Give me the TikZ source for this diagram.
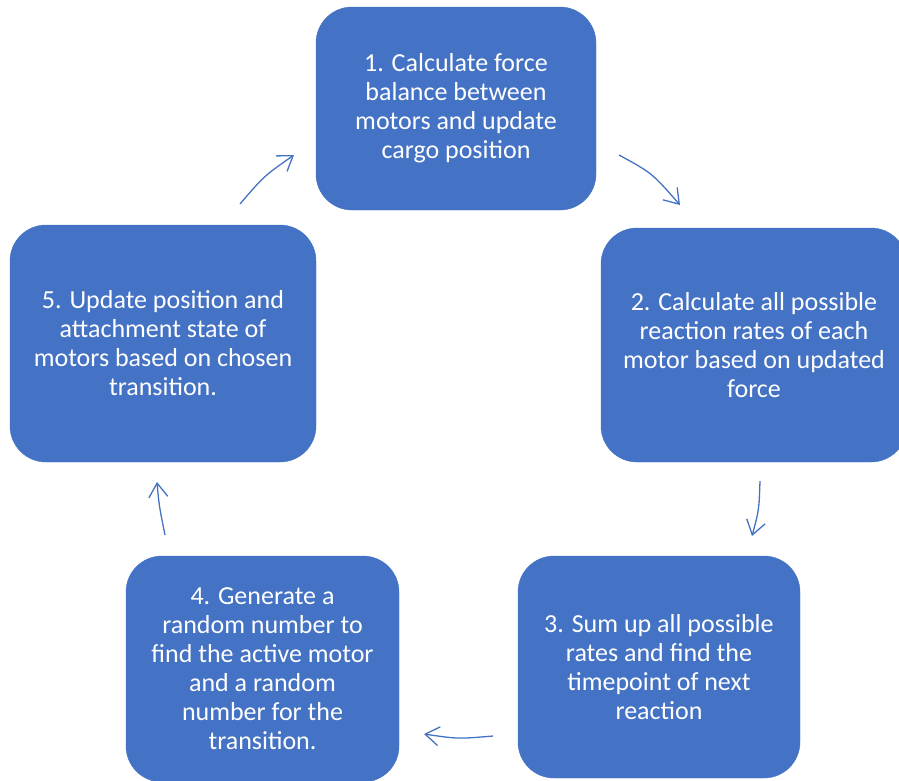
\documentclass[tikz,border=0pt]{standalone}
\usepackage{fontspec}
\setmainfont{Carlito}
\usetikzlibrary{arrows.meta}
\definecolor{officeblue}{HTML}{4472C4}

\begin{document}
\begin{tikzpicture}[x=1pt, y=-1pt, style={
  stage/.style={
    rectangle,
    rounded corners=36pt,
    fill=officeblue,
    draw=officeblue,
    text=white,
    align=center,
    inner sep=0pt,
    font=\fontsize{26}{29}\selectfont,
  },
  cyclearrow/.style={
    -{Straight Barb[length=14pt, width=19pt]},
    draw=officeblue,
    line width=1.3pt,
  }
}]
\useasboundingbox (0,0) rectangle (899,780);
\draw[]
  node[stage, minimum width=280pt, minimum height=203pt] at (456,108.5) (force) {
    1. Calculate force\\balance between\\motors and update\\cargo position
  }
  node[stage, minimum width=306pt, minimum height=234pt] at (754,345) (rates) {
    2. Calculate all possible\\reaction rates of each\\motor based on updated\\force
  }
  node[stage, minimum width=282pt, minimum height=222pt] at (659,667) (sumup) {
    3. Sum up all possible\\rates and find the\\timepoint of next\\reaction
  }
  node[stage, minimum width=273pt, minimum height=226pt] at (262.5,669) (random) {
    4. Generate a\\random number to\\find the active motor\\and a random\\number for the\\transition.
  }
  node[stage, minimum width=306pt, minimum height=237pt] at (163,343.5) (update) {
    5. Update position and\\attachment state of\\motors based on chosen\\transition.
  }
;
% free arrows between the stages
\coordinate (force-out) at (619,155);
\coordinate (rates-in) at (680,205);
\coordinate (rates-out) at (760,481);
\coordinate (sumup-in) at (752,536);
\coordinate (sumup-out) at (493,736);
\coordinate (random-in) at (424,734);
\coordinate (random-out) at (165,535);
\coordinate (update-in) at (157,482);
\coordinate (update-out) at (240,204);
\coordinate (force-in) at (294,155);
\draw[cyclearrow] (force-out) .. controls (652,173) .. (rates-in);
\draw[cyclearrow] (rates-out) .. controls (759,510) .. (sumup-in);
\draw[cyclearrow] (sumup-out) .. controls (458,739) .. (random-in);
\draw[cyclearrow] (random-out) .. controls (159,505) .. (update-in);
\draw[cyclearrow] (update-out) .. controls (264,176) .. (force-in);
\end{tikzpicture}
\end{document}
